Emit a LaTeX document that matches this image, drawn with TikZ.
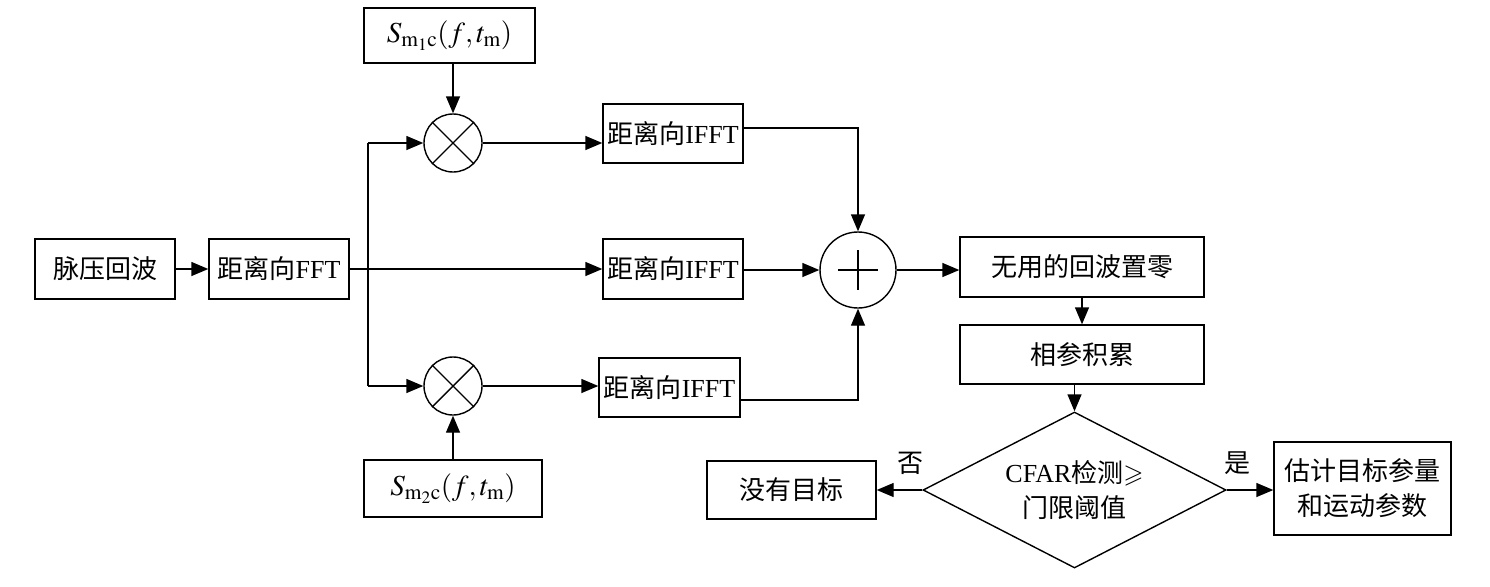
\documentclass[tikz,border=0pt]{standalone}
\usepackage{amssymb}
\usepackage{mathptmx}
\usepackage{fontspec}
\setmainfont{Liberation Serif}
\newfontfamily\cjk{Noto Sans CJK SC}
\usetikzlibrary{shapes.geometric,arrows.meta}
\tikzset{
  box/.style={draw, line width=1.4pt, rectangle, inner sep=0pt, align=center, font=\fontsize{26}{35}\selectfont},
  op/.style={draw, circle, line width=1.4pt, inner sep=0pt},
  arr/.style={line width=1.4pt, -{Triangle[length=17pt,width=14pt]}},
  ln/.style={line width=1.4pt},
  lbl/.style={font=\fontsize{26}{33}\selectfont\cjk, inner sep=0pt},
  mth/.style={font=\fontsize{29}{33}\selectfont},
}
\begin{document}
\begin{tikzpicture}[x=1pt,y=-1pt]
\useasboundingbox (0,0) rectangle (1490,586);
% boxes
\node[box, minimum width=140pt, minimum height=60pt] (pulse) at (105,269) {\cjk 脉压回波};
\node[box, minimum width=140pt, minimum height=60pt] (fft) at (279,269) {{\cjk 距离向}FFT};
\node[box, mth, minimum width=171pt, minimum height=55pt] (s1) at (449.5,35.5) {$S_{\mathrm{m}_1\mathrm{c}}(f,t_{\mathrm{m}})$};
\node[box, mth, minimum width=178pt, minimum height=57pt] (s2) at (453,488.5) {$S_{\mathrm{m}_2\mathrm{c}}(f,t_{\mathrm{m}})$};
\node[op, minimum size=58pt] (c1) at (453,143) {};
\node[op, minimum size=58pt] (c2) at (453,386) {};
\draw[ln] (c1.45) -- (c1.225) (c1.135) -- (c1.315);
\draw[ln] (c2.45) -- (c2.225) (c2.135) -- (c2.315);
\node[box, minimum width=140pt, minimum height=59pt] (i1) at (673,133.5) {{\cjk 距离向}IFFT};
\node[box, minimum width=140pt, minimum height=60pt] (i2) at (673,269) {{\cjk 距离向}IFFT};
\node[box, minimum width=141pt, minimum height=59pt] (i3) at (669.5,387.5) {{\cjk 距离向}IFFT};
\node[op, minimum size=76pt] (sum) at (858,270) {};
\draw[ln] ([xshift=-20pt]sum.center) -- ([xshift=20pt]sum.center)
          ([yshift=20pt]sum.center) -- ([yshift=-20pt]sum.center);
\node[box, minimum width=244pt, minimum height=60pt] (zero) at (1082,267) {\cjk 无用的回波置零};
\node[box, minimum width=244pt, minimum height=59pt] (acc) at (1082,354.5) {\cjk 相参积累};
\node[box, shape=diamond, aspect=1.94, minimum width=303pt, minimum height=156pt] (dec) at (1074.5,490) {CFAR{\cjk 检测}$\geqslant$\\{\cjk 门限阈值}};
\node[box, minimum width=169pt, minimum height=58pt] (none) at (791.5,490) {\cjk 没有目标};
\node[box, minimum width=177pt, minimum height=93pt] (est) at (1362.5,488.5) {\cjk 估计目标参量\\ \cjk 和运动参数};
\node[lbl] (no) at (910,463) {否};
\node[lbl] (yes) at (1237,463) {是};
\coordinate (br1) at (368,143);
\coordinate (br2) at (368,386);
% connectors
\draw[arr] (pulse) -- (fft);
\draw[arr] (fft.east) -- (i2.west);
\draw[ln] (br1) -- (br2);
\draw[arr] (br1) -- (c1.west);
\draw[arr] (br2) -- (c2.west);
\draw[arr] (s1.south -| c1.north) -- (c1.north);
\draw[arr] (s2.north) -- (c2.south);
\draw[arr] (c1.east) -- (c1.east -| i1.west);
\draw[arr] (c2.east) -- (c2.east -| i3.west);
\draw[arr] ([yshift=5.5pt]i1.east) -| (sum.north);
\draw[arr] (sum.west -| i2.east) -- (sum.west);
\draw[arr] ([yshift=-12.5pt]i3.east) -| (sum.south);
\draw[arr] (sum.east) -- (sum.east -| zero.west);
\draw[arr] (zero.south) -- (acc.north);
\draw[arr] (acc.south -| dec.north) -- (dec.north);
\draw[arr] (dec.west) -- (dec.west -| none.east);
\draw[arr] (dec.east) -- (dec.east -| est.west);
\end{tikzpicture}
\end{document}
